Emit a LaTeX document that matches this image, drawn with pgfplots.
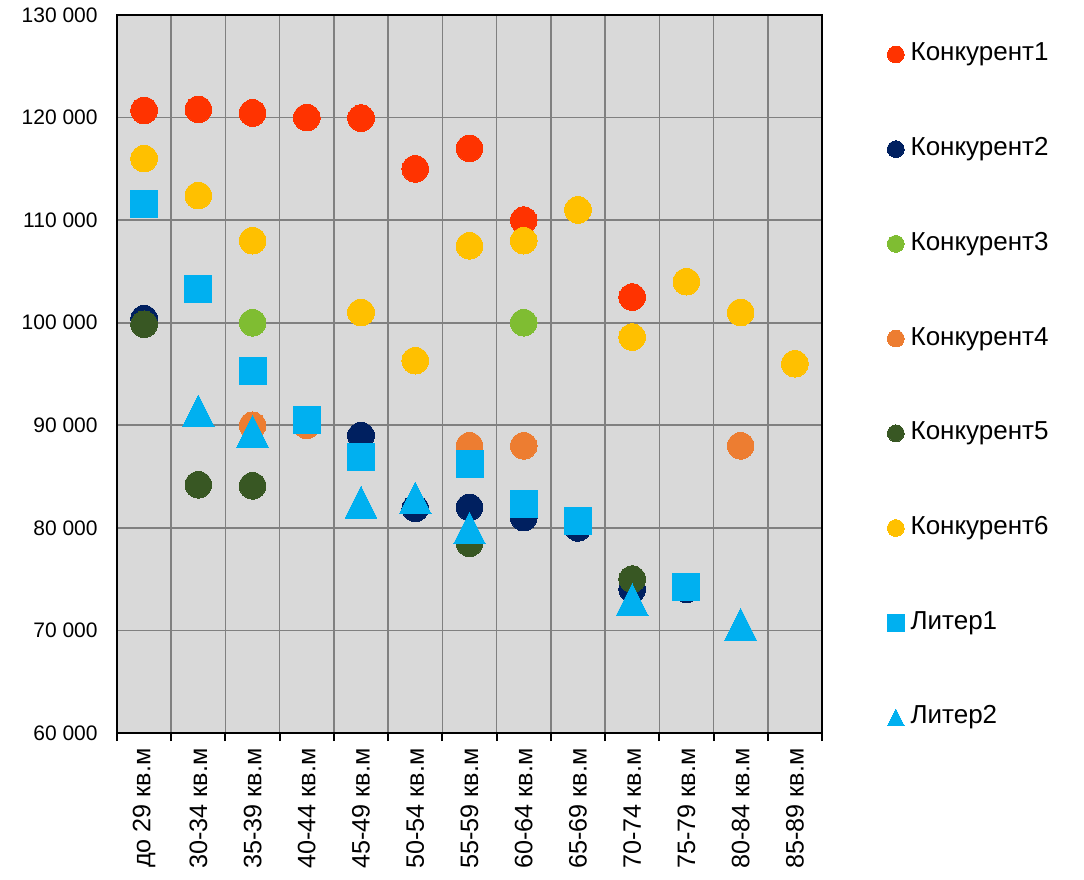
\documentclass[border=0pt]{standalone}
\usepackage{fontspec}
\setmainfont{Liberation Sans}
\usepackage{pgfplots}
\pgfplotsset{compat=1.18}
\definecolor{c1}{HTML}{FF3300}
\definecolor{c2}{HTML}{002060}
\definecolor{c3}{HTML}{7FBD32}
\definecolor{c4}{HTML}{ED7D31}
\definecolor{c5}{HTML}{385723}
\definecolor{c6}{HTML}{FFC000}
\definecolor{cl}{HTML}{00B0F0}
\definecolor{bgc}{HTML}{D9D9D9}
\definecolor{gridc}{HTML}{808080}
\begin{document}
\begin{tikzpicture}
\begin{axis}[
  at={(58.5pt,73.5pt)}, anchor=south west,
  scale only axis, width=352.5pt, height=359pt,
  xmin=-0.5, xmax=12.5, ymin=60000, ymax=130000,
  axis background/.style={fill=bgc},
  axis line style={black, line width=1pt},
  xtick={0,...,12},
  xticklabels={до 29 кв.м,30-34 кв.м,35-39 кв.м,40-44 кв.м,45-49 кв.м,50-54 кв.м,55-59 кв.м,60-64 кв.м,65-69 кв.м,70-74 кв.м,75-79 кв.м,80-84 кв.м,85-89 кв.м},
  minor xtick={-0.5,0.5,...,12.5},
  ytick={60000,70000,...,130000},
  yticklabels={60 000,70 000,80 000,90 000,100 000,110 000,120 000,130 000},
  major tick length=0pt, minor tick length=4pt,
  tick align=outside, tick pos=left,
  minor tick style={black, line width=1pt},
  ymajorgrids, xminorgrids,
  grid style={gridc, line width=0.8pt},
  minor grid style={gridc, line width=0.8pt},
  xticklabel style={rotate=90, anchor=east, font=\fontsize{12.6}{15}\selectfont, inner sep=0pt},
  xticklabel shift=7.5pt,
  yticklabel style={font=\fontsize{10.5}{12.6}\selectfont, inner sep=0pt},
  yticklabel shift=9.5pt,
  legend style={at={(1,1)}, anchor=north west, xshift=32.5pt, yshift=-13.25pt,
    draw=none, fill=none, inner sep=0pt, row sep=34.86pt, column sep=3.2pt,
    font=\fontsize{13}{15.6}\selectfont,
    nodes={inner sep=0pt, text height=9.5pt, text depth=3pt}},
  legend cell align=left,
  every axis plot/.append style={line width=0pt},
]
\addplot[only marks, mark=*, mark size=6.67pt, c1,
  legend image code/.code={\fill[c1] (0pt,0pt) circle (4.2pt);}]
  coordinates {(0,120700)(1,120800)(2,120450)(3,120000)(4,119950)(5,115000)(6,117000)(7,110000)(9,102500)};
\addlegendentry{Конкурент1}
\addplot[only marks, mark=*, mark size=6.67pt, c2,
  legend image code/.code={\fill[c2] (0pt,0pt) circle (4.2pt);}]
  coordinates {(0,100400)(4,89000)(5,81900)(6,82000)(7,81000)(8,80000)(9,74000)(10,74000)};
\addlegendentry{Конкурент2}
\addplot[only marks, mark=*, mark size=6.67pt, c3,
  legend image code/.code={\fill[c3] (0pt,0pt) circle (4.2pt);}]
  coordinates {(2,100000)(7,100000)};
\addlegendentry{Конкурент3}
\addplot[only marks, mark=*, mark size=6.67pt, c4,
  legend image code/.code={\fill[c4] (0pt,0pt) circle (4.2pt);}]
  coordinates {(2,90000)(3,90000)(6,88000)(7,88000)(11,88000)};
\addlegendentry{Конкурент4}
\addplot[only marks, mark=*, mark size=6.67pt, c5,
  legend image code/.code={\fill[c5] (0pt,0pt) circle (4.2pt);}]
  coordinates {(0,99850)(1,84200)(2,84100)(6,78500)(9,75000)};
\addlegendentry{Конкурент5}
\addplot[only marks, mark=*, mark size=6.67pt, c6,
  legend image code/.code={\fill[c6] (0pt,0pt) circle (4.2pt);}]
  coordinates {(0,116000)(1,112400)(2,108000)(4,101000)(5,96300)(6,107500)(7,108000)(8,111000)(9,98600)(10,104000)(11,101000)(12,96000)};
\addlegendentry{Конкурент6}
\addplot[only marks, mark=square*, mark size=6.75pt, cl,
  legend image code/.code={\fill[cl] (-4.2pt,-4.2pt) rectangle (4.2pt,4.2pt);}]
  coordinates {(0,111600)(1,103300)(2,95300)(3,90500)(4,86900)(6,86200)(7,82300)(8,80700)(10,74200)};
\addlegendentry{Литер1}
\addplot[only marks, mark=triangle*, mark size=9.15pt, cl, mark options={yshift=-2.64pt, yscale=1.1547},
  legend image code/.code={\fill[cl] (-4.2pt,-4.2pt) -- (4.2pt,-4.2pt) -- (0pt,4.2pt) -- cycle;}]
  coordinates {(1,91400)(2,89400)(4,82500)(5,82900)(6,80000)(9,73000)(11,70600)};
\addlegendentry{Литер2}
\end{axis}
\pgfresetboundingbox
\path (0pt,0pt) rectangle (542pt,440pt);
\end{tikzpicture}
\end{document}
